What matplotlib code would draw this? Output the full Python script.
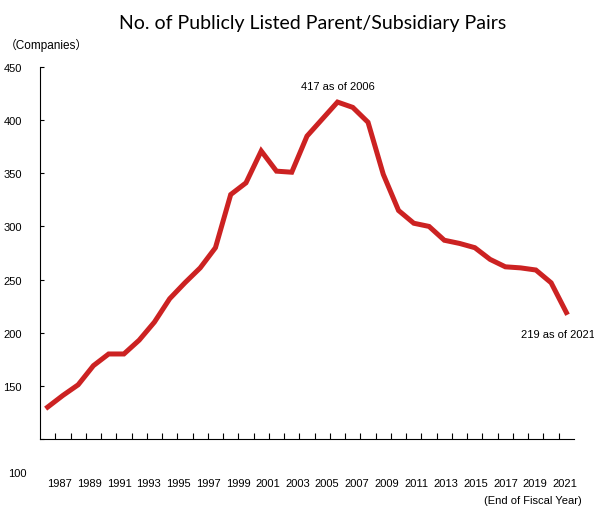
import matplotlib.pyplot as plt
import numpy as np

plt.rcParams['font.family'] = ['Liberation Sans', 'Noto Sans CJK JP', 'DejaVu Sans']

years = list(range(1987, 2022))
pairs = [130, 141, 151, 169, 180, 180, 193, 210, 232, 247,
         261, 280, 330, 341, 371, 352, 351, 385, 401, 417,
         412, 398, 349, 315, 303, 300, 287, 284, 280, 269,
         262, 261, 259, 247, 219]
year_labels = [str(y) for y in range(1987, 2022, 2)]
y_ticks = [100, 150, 200, 250, 300, 350, 400, 450]

peak_year = years[int(np.argmax(pairs))]
peak_val = max(pairs)
last_year = years[-1]
last_val = pairs[-1]

red = '#CC2222'

fig = plt.figure(figsize=(5.94, 5.10), dpi=100)
ax = fig.add_axes([40 / 594, 70 / 510, 534 / 594, 372 / 510])

ax.plot(years, pairs, color=red, linewidth=3.6, solid_joinstyle='miter')

ax.set_xlim(1986.5, 2021.5)
ax.set_ylim(100, 450)

# y axis
ax.set_yticks(y_ticks)
ax.set_yticklabels([''] + [str(v) for v in y_ticks[1:]])
ax.tick_params(axis='y', direction='in', length=3, width=0.8, pad=13, labelsize=8)
# the "100" label sits lower than its tick in the original
ax.annotate('100', xy=(0, 100), xycoords=('axes fraction', 'data'),
            xytext=(-13, -34), textcoords='offset pixels',
            ha='right', va='center', fontsize=8)

# x axis: tick marks between years, labels every other year
ax.set_xticks(np.arange(1987.5, 2021.5, 1.0), minor=True)
ax.set_xticks(np.linspace(1987.8, 2020.9, len(year_labels)))
ax.set_xticklabels(year_labels)
ax.tick_params(axis='x', which='major', length=0, pad=28, labelsize=8)
ax.tick_params(axis='x', which='minor', direction='in', length=4, width=0.8)

for s in ['top', 'right']:
    ax.spines[s].set_visible(False)
for s in ['left', 'bottom']:
    ax.spines[s].set_linewidth(0.8)

ax.annotate(f'{peak_val} as of {peak_year}', xy=(peak_year, peak_val),
            xytext=(0, 16), textcoords='offset pixels',
            ha='center', va='center', fontsize=8)
ax.annotate(f'{last_val} as of {last_year}', xy=(last_year, last_val),
            xytext=(-8, -21), textcoords='offset pixels',
            ha='center', va='center', fontsize=8)

fig.text(312.5 / 594, 1 - 24 / 510, 'No. of Publicly Listed Parent/Subsidiary Pairs',
         ha='center', va='center', fontsize=14, family=['Lato', 'DejaVu Sans'])
fig.text(5 / 594, 1 - 45 / 510, '（Companies）', ha='left', va='center', fontsize=8.5)
fig.text(582 / 594, 1 - 501 / 510, '(End of Fiscal Year)', ha='right', va='center', fontsize=8)

fig.savefig('out.png', dpi=100)
